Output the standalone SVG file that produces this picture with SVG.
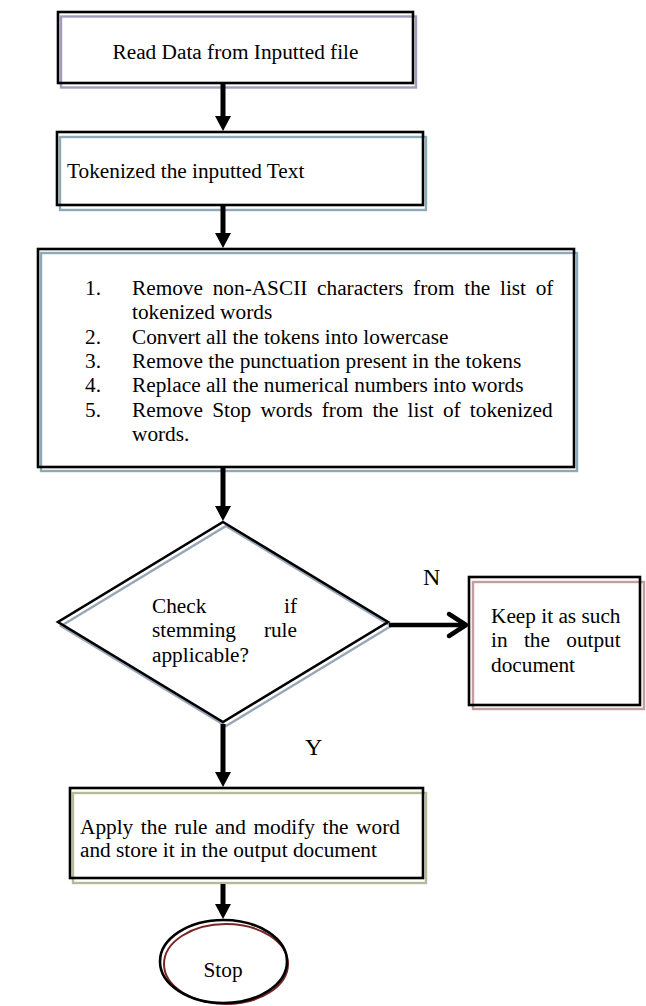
<svg xmlns="http://www.w3.org/2000/svg" width="646" height="1006" viewBox="0 0 646 1006">
<style>
.t{font-family:"Liberation Serif","Times New Roman",serif;font-size:21.3px;fill:#000}
.lbl{font-family:"Liberation Serif","Times New Roman",serif;font-size:24px;fill:#000}
.k{fill:none;stroke:#000;stroke-width:2.6}
.sh{fill:none;stroke-width:2.4}
.wire{stroke:#000;stroke-width:5;fill:none}
</style>
<defs>
<marker id="ah" markerUnits="userSpaceOnUse" markerWidth="16" markerHeight="16" refX="1" refY="8" orient="auto">
<path d="M0,0 L15,8 L0,16 z" fill="#000"/>
</marker>
</defs>
<rect width="646" height="1006" fill="#fff"/>

<g id="read">
<rect x="61" y="16.5" width="355" height="71" class="sh" stroke="#a39cb8"/>
<rect x="58" y="12" width="355" height="71" class="k"/>
<text class="t" x="235.5" y="59" text-anchor="middle">Read Data from Inputted file</text>
</g>

<g id="tokenize">
<rect x="60" y="137" width="366" height="73" class="sh" stroke="#8eaab7"/>
<rect x="57" y="132" width="366" height="73" class="k"/>
<text class="t" x="67" y="178">Tokenized the inputted Text</text>
</g>

<g id="clean">
<rect x="41" y="253" width="536" height="218" class="sh" stroke="#8ea9b6"/>
<rect x="38" y="249" width="536" height="218" class="k"/>
<text class="t" x="85" y="295">1.</text>
<text class="t" x="132" y="295" word-spacing="4.4">Remove non-ASCII characters from the list of</text>
<text class="t" x="132" y="319.3">tokenized words</text>
<text class="t" x="85" y="343.6">2.</text>
<text class="t" x="132" y="343.6">Convert all the tokens into lowercase</text>
<text class="t" x="85" y="367.9">3.</text>
<text class="t" x="132" y="367.9">Remove the punctuation present in the tokens</text>
<text class="t" x="85" y="392.2">4.</text>
<text class="t" x="132" y="392.2">Replace all the numerical numbers into words</text>
<text class="t" x="85" y="416.5">5.</text>
<text class="t" x="132" y="416.5" word-spacing="3.9">Remove Stop words from the list of tokenized</text>
<text class="t" x="132" y="440.8">words.</text>
</g>

<g id="decision">
<polygon points="226,526 391,626 226,726 61,626" class="sh" stroke="#98a6b8"/>
<polygon points="223,522 388,622 223,722 58,622" class="k"/>
<text class="t" x="152" y="613">Check</text>
<text class="t" x="297" y="613" text-anchor="end">if</text>
<text class="t" x="152" y="637">stemming</text>
<text class="t" x="297" y="637" text-anchor="end">rule</text>
<text class="t" x="152" y="662">applicable?</text>
</g>

<g id="keep">
<rect x="473" y="582" width="171" height="127" class="sh" stroke="#c29e9e"/>
<rect x="469" y="577" width="171" height="128" class="k"/>
<text class="t" x="491" y="623">Keep it as such</text>
<text class="t" x="491" y="647" word-spacing="11">in the output</text>
<text class="t" x="491" y="672">document</text>
</g>

<g id="apply">
<rect x="73" y="793" width="353" height="90" class="sh" stroke="#b3bb9a"/>
<rect x="70" y="788" width="353" height="90" class="k"/>
<text class="t" x="80" y="834" word-spacing="2.25">Apply the rule and modify the word</text>
<text class="t" x="80" y="857">and store it in the output document</text>
</g>

<g id="stop">
<ellipse cx="226" cy="964" rx="62" ry="40" fill="none" stroke="#7a2626" stroke-width="2"/>
<ellipse cx="223.5" cy="961.5" rx="63.5" ry="41.5" class="k"/>
<text class="t" x="223" y="977" text-anchor="middle">Stop</text>
</g>

<g id="connectors">
<line x1="223" y1="84" x2="223" y2="117" class="wire" marker-end="url(#ah)"/>
<line x1="223" y1="206" x2="223" y2="234" class="wire" marker-end="url(#ah)"/>
<line x1="223" y1="468" x2="223" y2="507" class="wire" marker-end="url(#ah)"/>
<line x1="223" y1="724" x2="223" y2="773" class="wire" marker-end="url(#ah)"/>
<line x1="223" y1="884" x2="223" y2="905" class="wire" marker-end="url(#ah)"/>
<line x1="389" y1="625" x2="465" y2="625" stroke="#000" stroke-width="4.5"/>
<polyline points="449,614 466,625 449,636" fill="none" stroke="#000" stroke-width="4.5" stroke-linecap="round" stroke-linejoin="round"/>
<text class="lbl" x="423" y="585">N</text>
<text class="lbl" x="305" y="755">Y</text>
</g>
</svg>
